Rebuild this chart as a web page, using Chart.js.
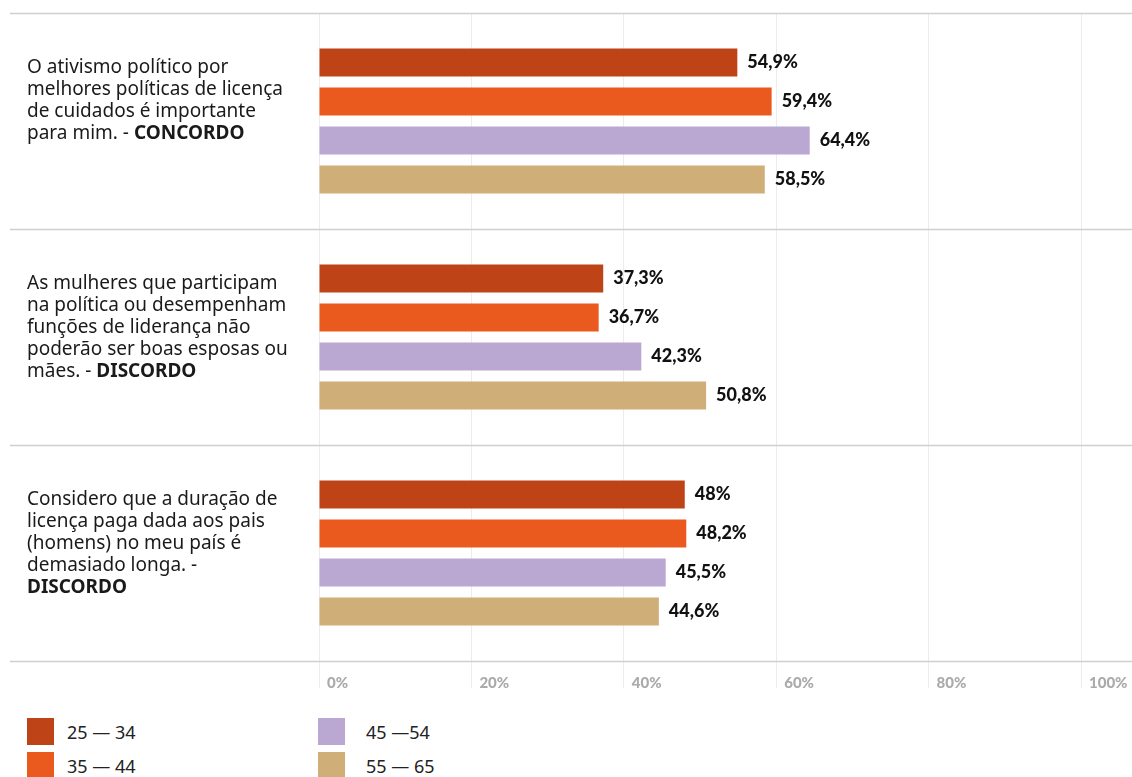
<!DOCTYPE html>
<html>
<head>
<meta charset="utf-8">
<script src="https://cdn.jsdelivr.net/npm/chart.js@4/dist/chart.umd.min.js"></script>
<style>
  body { margin: 0; background: #fff; font-family: "Noto Sans", sans-serif; }
  #wrap { position: relative; width: 1132px; height: 777px; overflow: hidden; }
  #box { position: absolute; left: 0; top: 0; width: 1132px; height: 700px; }
  .leg { position: absolute; display: flex; align-items: center; font-size: 18px; color: #222; }
  .leg span.sw { display: inline-block; width: 27px; height: 27px; margin-right: 13px; }
</style>
</head>
<body>
<div id="wrap">
  <div id="box"><canvas id="chart"></canvas></div>
  <div id="legend"></div>
</div>
<script>
// dados
const categories = ['Ativismo', 'Mulheres na política', 'Licença dos pais'];
const categoryLines = [
    ['O ativismo político por', 'melhores políticas de licença', 'de cuidados é importante', 'para mim. - '],
    ['As mulheres que participam', 'na política ou desempenham', 'funções de liderança não', 'poderão ser boas esposas ou', 'mães. - '],
    ['Considero que a duração de', 'licença paga dada aos pais', '(homens) no meu país é', 'demasiado longa. -', '']
];
const categoryAnswers = ['CONCORDO', 'DISCORDO', 'DISCORDO'];

const seriesNames = ['25 — 34', '35 — 44', '45 —54', '55 — 65'];
const age25to34 = [54.9, 37.3, 48];
const age35to44 = [59.4, 36.7, 48.2];
const age45to54 = [64.4, 42.3, 45.5];
const age55to65 = [58.5, 50.8, 44.6];
const xTicks = [0, 20, 40, 60, 80, 100];

const colors = ['#be4418', '#ea5a1f', '#bba8d2', '#cfae77'];
const seriesValues = [age25to34, age35to44, age45to54, age55to65];

function fmt(v) {
    return String(v).replace('.', ',') + '%';
}

// linhas separadoras, textos das categorias e valores
const decorPlugin = {
    id: 'decor',
    beforeDatasetsDraw(chart) {
        const ctx = chart.ctx;
        const y = chart.scales.y;
        const area = chart.chartArea;
        const band = (area.bottom - area.top) / categories.length;
        ctx.save();
        ctx.strokeStyle = '#cfcfcf';
        ctx.lineWidth = 1.5;
        for (let i = 0; i <= categories.length; i++) {
            const yy = Math.round(area.top + i * band) + 0.5;
            ctx.beginPath();
            ctx.moveTo(10, yy);
            ctx.lineTo(chart.width, yy);
            ctx.stroke();
        }
        // textos
        ctx.fillStyle = '#1a1a1a';
        ctx.textBaseline = 'middle';
        ctx.textAlign = 'left';
        categories.forEach((c, i) => {
            const top = y.getPixelForValue(i) - band / 2;
            const lines = categoryLines[i];
            lines.forEach((ln, j) => {
                const ty = top + 55 + j * 22;
                ctx.font = '19px "Noto Sans", sans-serif';
                ctx.fillText(ln, 27, ty);
                if (j === lines.length - 1) {
                    const w = ctx.measureText(ln).width;
                    ctx.font = 'bold 19px "Noto Sans", sans-serif';
                    ctx.fillText(categoryAnswers[i], 27 + w, ty);
                }
            });
        });
        ctx.restore();
    },
    afterDatasetsDraw(chart) {
        const ctx = chart.ctx;
        ctx.save();
        ctx.font = '900 18px Lato, sans-serif';
        ctx.fillStyle = '#111';
        ctx.textBaseline = 'middle';
        ctx.textAlign = 'left';
        chart.data.datasets.forEach((ds, di) => {
            chart.getDatasetMeta(di).data.forEach((bar, i) => {
                ctx.fillText(fmt(ds.data[i]), bar.x + 10, bar.y);
            });
        });
        ctx.restore();
    }
};

new Chart(document.getElementById('chart'), {
    type: 'bar',
    data: {
        labels: categories,
        datasets: seriesNames.map((name, i) => ({
            label: name,
            data: seriesValues[i],
            backgroundColor: colors[i],
            borderWidth: 0,
            categoryPercentage: 0.722,
            barPercentage: 0.72
        }))
    },
    options: {
        indexAxis: 'y',
        responsive: true,
        maintainAspectRatio: false,
        animation: false,
        layout: { padding: { left: 319, right: 51, top: 13, bottom: 0 } },
        plugins: {
            legend: { display: false },
            tooltip: { enabled: false }
        },
        scales: {
            x: {
                min: 0,
                max: 100,
                afterBuildTicks(scale) {
                    scale.ticks = xTicks.map(v => ({ value: v }));
                },
                afterFit(scale) { scale.height = 39; },
                border: { display: false },
                grid: { color: '#ececec', lineWidth: 1, tickLength: 27, drawTicks: true },
                ticks: {
                    align: 'start',
                    labelOffset: 8,
                    padding: -14,
                    color: '#aaaaaa',
                    font: { family: 'Lato', weight: '900', size: 15 },
                    callback: v => v + '%'
                }
            },
            y: {
                display: false
            }
        }
    },
    plugins: [decorPlugin]
});

// legenda em html (duas colunas)
const legend = document.getElementById('legend');
const legPos = [[27, 718], [27, 752], [318, 718], [318, 752]];
seriesNames.forEach((name, i) => {
    const d = document.createElement('div');
    d.className = 'leg';
    d.style.left = legPos[i][0] + 'px';
    d.style.top = legPos[i][1] + 'px';
    d.innerHTML = '<span class="sw" style="background:' + colors[i] + '"></span>' + name;
    if (i >= 2) d.querySelector('.sw').style.marginRight = '21px';
    legend.appendChild(d);
});
</script>
</body>
</html>
